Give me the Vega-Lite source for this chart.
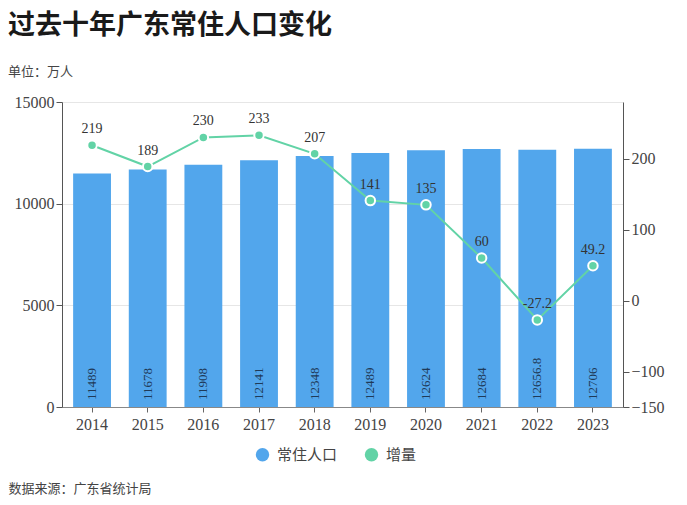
{
  "$schema": "https://vega.github.io/schema/vega-lite/v6.json",
  "autosize": {"type": "none"},
  "width": 561,
  "height": 305,
  "padding": {"left": 62, "top": 102, "right": 64, "bottom": 98},
  "background": "white",
  "config": {
    "view": {"stroke": null},
    "font": "Liberation Serif, Noto Sans CJK SC"
  },
  "title": {
    "text": "过去十年广东常住人口变化",
    "subtitle": "单位：万人",
    "anchor": "start",
    "frame": "group",
    "dx": -54,
    "offset": 14,
    "font": "Noto Sans CJK SC",
    "fontSize": 27,
    "fontWeight": "bold",
    "color": "#1a1a1a",
    "subtitleFont": "Noto Sans CJK SC",
    "subtitleFontSize": 13,
    "subtitleColor": "#444",
    "subtitlePadding": 26
  },
  "data": {
    "values": [
      {"year": "2014", "pop": 11489, "inc": 219},
      {"year": "2015", "pop": 11678, "inc": 189},
      {"year": "2016", "pop": 11908, "inc": 230},
      {"year": "2017", "pop": 12141, "inc": 233},
      {"year": "2018", "pop": 12348, "inc": 207},
      {"year": "2019", "pop": 12489, "inc": 141},
      {"year": "2020", "pop": 12624, "inc": 135},
      {"year": "2021", "pop": 12684, "inc": 60},
      {"year": "2022", "pop": 12656.8, "inc": -27.2},
      {"year": "2023", "pop": 12706, "inc": 49.2}
    ]
  },
  "encoding": {
    "x": {
      "field": "year",
      "type": "nominal",
      "scale": {"paddingInner": 0.32, "paddingOuter": 0.2},
      "axis": {
        "labelAngle": 0,
        "labelFontSize": 16,
        "labelColor": "#444",
        "labelPadding": 4,
        "domainColor": "#888",
        "tickColor": "#666",
        "tickSize": 5,
        "title": "数据来源：广东省统计局",
        "titleFont": "Noto Sans CJK SC",
        "titleFontSize": 13,
        "titleFontWeight": "normal",
        "titleColor": "#444",
        "titleAnchor": null,
        "titleAlign": "left",
        "titleBaseline": "middle",
        "titleX": -54,
        "titleY": 81
      }
    }
  },
  "layer": [
    {
      "layer": [
        {
          "mark": {"type": "bar", "color": "#52a6ec"},
          "encoding": {
            "y": {
              "field": "pop",
              "type": "quantitative",
              "scale": {"domain": [0, 15000], "nice": false},
              "axis": {
                "values": [0, 5000, 10000, 15000],
                "format": "d",
                "title": null,
                "labelFontSize": 16,
                "labelColor": "#444",
                "domainColor": "#555",
                "tickColor": "#555",
                "tickSize": 6,
                "gridColor": "#e6e6e6",
                "labelPadding": 2
              }
            },
            "color": {
              "datum": "常住人口",
              "type": "nominal",
              "scale": {"domain": ["常住人口", "增量"], "range": ["#52a6ec", "#62d3a6"]},
              "legend": {
                "title": null,
                "orient": "none",
                "direction": "horizontal",
                "legendX": 193,
                "legendY": 345,
                "symbolType": "circle",
                "symbolSize": 180,
                "symbolStrokeWidth": 0,
                "labelFont": "Noto Sans CJK SC",
                "labelFontSize": 15,
                "labelColor": "#444",
                "columnPadding": 26,
                "labelOffset": 7
              }
            }
          }
        },
        {
          "mark": {"type": "text", "angle": 270, "align": "left", "baseline": "middle", "dx": 7, "fontSize": 13, "color": "#1f3a58"},
          "encoding": {
            "y": {"datum": 0, "type": "quantitative"},
            "text": {"field": "pop", "type": "nominal"}
          }
        }
      ]
    },
    {
      "layer": [
        {
          "mark": {"type": "line", "color": "#62d3a6", "strokeWidth": 2},
          "encoding": {
            "color": {"datum": "增量", "type": "nominal"}
          }
        },
        {
          "mark": {"type": "point", "filled": true, "fill": "#62d3a6", "stroke": "white", "strokeWidth": 2, "size": 90, "opacity": 1},
          "encoding": {}
        },
        {
          "mark": {"type": "text", "dy": -16, "fontSize": 14, "color": "#333"},
          "encoding": {"text": {"field": "inc", "type": "nominal"}}
        }
      ],
      "encoding": {
        "y": {
          "field": "inc",
          "type": "quantitative",
          "scale": {"domain": [-150, 280], "nice": false, "zero": false},
          "axis": {
            "orient": "right",
            "values": [-150, -100, 0, 100, 200],
            "title": null,
            "grid": false,
            "labelFontSize": 16,
            "labelColor": "#444",
            "domainColor": "#555",
            "tickColor": "#555",
            "tickSize": 6,
            "labelPadding": 2
          }
        }
      }
    }
  ],
  "resolve": {"scale": {"y": "independent"}}
}
